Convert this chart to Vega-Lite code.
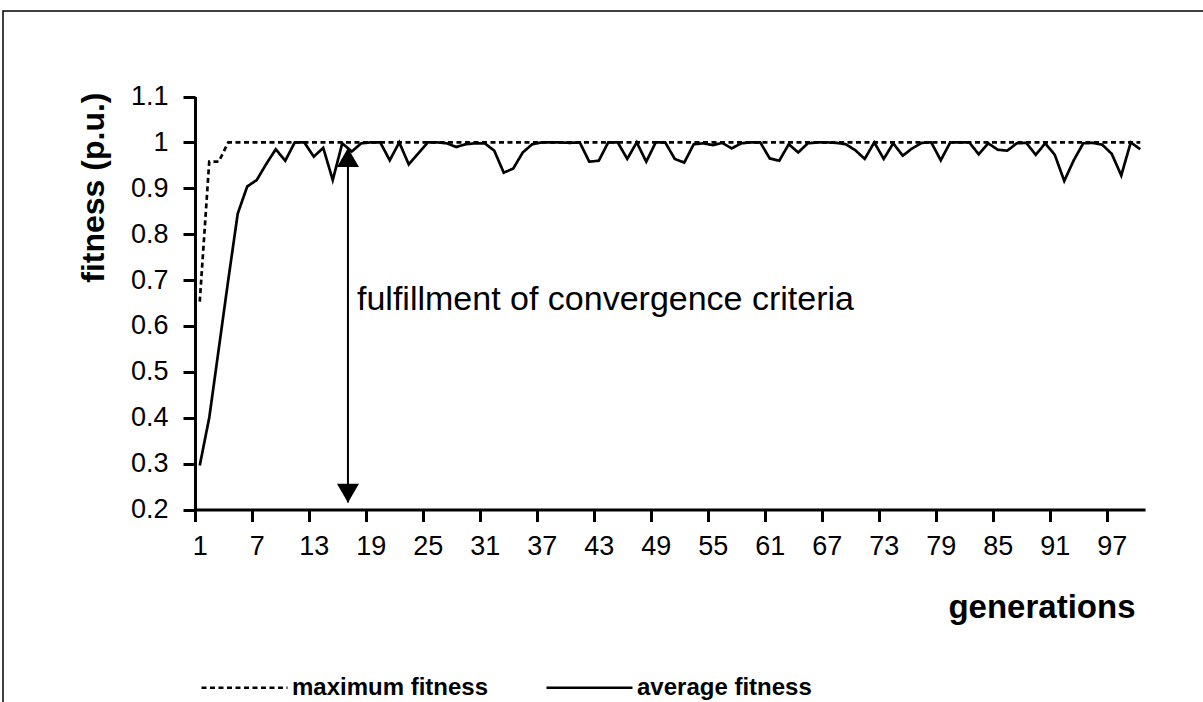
{
  "$schema": "https://vega.github.io/schema/vega-lite/v6.json",
  "width": 1215,
  "height": 700,
  "autosize": {"type": "none"},
  "padding": {"left": 3, "top": 11, "right": 0, "bottom": 0},
  "background": "white",
  "config": {
    "font": "Liberation Sans",
    "view": {"stroke": "black", "strokeWidth": 1.5},
    "axis": {"grid": false, "domainColor": "black", "tickColor": "black", "labelColor": "black", "titleColor": "black", "labelFlush": false, "labelBound": false, "labelOverlap": false}
  },
  "datasets": {
    "fit": [
      {"gen":1,"maximum fitness":0.653,"average fitness":0.296},
      {"gen":2,"maximum fitness":0.958,"average fitness":0.40},
      {"gen":3,"maximum fitness":0.958,"average fitness":0.55},
      {"gen":4,"maximum fitness":1.0,"average fitness":0.70},
      {"gen":5,"maximum fitness":1.0,"average fitness":0.845},
      {"gen":6,"maximum fitness":1.0,"average fitness":0.904},
      {"gen":7,"maximum fitness":1.0,"average fitness":0.918},
      {"gen":8,"maximum fitness":1.0,"average fitness":0.953},
      {"gen":9,"maximum fitness":1.0,"average fitness":0.985},
      {"gen":10,"maximum fitness":1.0,"average fitness":0.96},
      {"gen":11,"maximum fitness":1.0,"average fitness":1.0},
      {"gen":12,"maximum fitness":1.0,"average fitness":1.0},
      {"gen":13,"maximum fitness":1.0,"average fitness":0.969},
      {"gen":14,"maximum fitness":1.0,"average fitness":0.988},
      {"gen":15,"maximum fitness":1.0,"average fitness":0.918},
      {"gen":16,"maximum fitness":1.0,"average fitness":0.998},
      {"gen":17,"maximum fitness":1.0,"average fitness":0.98},
      {"gen":18,"maximum fitness":1.0,"average fitness":0.998},
      {"gen":19,"maximum fitness":1.0,"average fitness":1.0},
      {"gen":20,"maximum fitness":1.0,"average fitness":1.0},
      {"gen":21,"maximum fitness":1.0,"average fitness":0.961},
      {"gen":22,"maximum fitness":1.0,"average fitness":1.0},
      {"gen":23,"maximum fitness":1.0,"average fitness":0.952},
      {"gen":24,"maximum fitness":1.0,"average fitness":0.976},
      {"gen":25,"maximum fitness":1.0,"average fitness":1.0},
      {"gen":26,"maximum fitness":1.0,"average fitness":1.0},
      {"gen":27,"maximum fitness":1.0,"average fitness":0.998},
      {"gen":28,"maximum fitness":1.0,"average fitness":0.99},
      {"gen":29,"maximum fitness":1.0,"average fitness":0.996},
      {"gen":30,"maximum fitness":1.0,"average fitness":0.998},
      {"gen":31,"maximum fitness":1.0,"average fitness":0.998},
      {"gen":32,"maximum fitness":1.0,"average fitness":0.982},
      {"gen":33,"maximum fitness":1.0,"average fitness":0.934},
      {"gen":34,"maximum fitness":1.0,"average fitness":0.943},
      {"gen":35,"maximum fitness":1.0,"average fitness":0.978},
      {"gen":36,"maximum fitness":1.0,"average fitness":0.996},
      {"gen":37,"maximum fitness":1.0,"average fitness":1.0},
      {"gen":38,"maximum fitness":1.0,"average fitness":1.0},
      {"gen":39,"maximum fitness":1.0,"average fitness":1.0},
      {"gen":40,"maximum fitness":1.0,"average fitness":0.999},
      {"gen":41,"maximum fitness":1.0,"average fitness":1.0},
      {"gen":42,"maximum fitness":1.0,"average fitness":0.958},
      {"gen":43,"maximum fitness":1.0,"average fitness":0.96},
      {"gen":44,"maximum fitness":1.0,"average fitness":1.0},
      {"gen":45,"maximum fitness":1.0,"average fitness":1.0},
      {"gen":46,"maximum fitness":1.0,"average fitness":0.964},
      {"gen":47,"maximum fitness":1.0,"average fitness":1.0},
      {"gen":48,"maximum fitness":1.0,"average fitness":0.958},
      {"gen":49,"maximum fitness":1.0,"average fitness":1.0},
      {"gen":50,"maximum fitness":1.0,"average fitness":1.0},
      {"gen":51,"maximum fitness":1.0,"average fitness":0.964},
      {"gen":52,"maximum fitness":1.0,"average fitness":0.956},
      {"gen":53,"maximum fitness":1.0,"average fitness":0.996},
      {"gen":54,"maximum fitness":1.0,"average fitness":0.998},
      {"gen":55,"maximum fitness":1.0,"average fitness":0.994},
      {"gen":56,"maximum fitness":1.0,"average fitness":0.999},
      {"gen":57,"maximum fitness":1.0,"average fitness":0.987},
      {"gen":58,"maximum fitness":1.0,"average fitness":0.998},
      {"gen":59,"maximum fitness":1.0,"average fitness":1.0},
      {"gen":60,"maximum fitness":1.0,"average fitness":1.0},
      {"gen":61,"maximum fitness":1.0,"average fitness":0.965},
      {"gen":62,"maximum fitness":1.0,"average fitness":0.96},
      {"gen":63,"maximum fitness":1.0,"average fitness":0.996},
      {"gen":64,"maximum fitness":1.0,"average fitness":0.978},
      {"gen":65,"maximum fitness":1.0,"average fitness":0.998},
      {"gen":66,"maximum fitness":1.0,"average fitness":1.0},
      {"gen":67,"maximum fitness":1.0,"average fitness":1.0},
      {"gen":68,"maximum fitness":1.0,"average fitness":0.999},
      {"gen":69,"maximum fitness":1.0,"average fitness":0.996},
      {"gen":70,"maximum fitness":1.0,"average fitness":0.983},
      {"gen":71,"maximum fitness":1.0,"average fitness":0.964},
      {"gen":72,"maximum fitness":1.0,"average fitness":1.0},
      {"gen":73,"maximum fitness":1.0,"average fitness":0.964},
      {"gen":74,"maximum fitness":1.0,"average fitness":0.998},
      {"gen":75,"maximum fitness":1.0,"average fitness":0.971},
      {"gen":76,"maximum fitness":1.0,"average fitness":0.987},
      {"gen":77,"maximum fitness":1.0,"average fitness":0.999},
      {"gen":78,"maximum fitness":1.0,"average fitness":1.0},
      {"gen":79,"maximum fitness":1.0,"average fitness":0.961},
      {"gen":80,"maximum fitness":1.0,"average fitness":1.0},
      {"gen":81,"maximum fitness":1.0,"average fitness":1.0},
      {"gen":82,"maximum fitness":1.0,"average fitness":1.0},
      {"gen":83,"maximum fitness":1.0,"average fitness":0.974},
      {"gen":84,"maximum fitness":1.0,"average fitness":0.998},
      {"gen":85,"maximum fitness":1.0,"average fitness":0.984},
      {"gen":86,"maximum fitness":1.0,"average fitness":0.982},
      {"gen":87,"maximum fitness":1.0,"average fitness":0.998},
      {"gen":88,"maximum fitness":1.0,"average fitness":0.999},
      {"gen":89,"maximum fitness":1.0,"average fitness":0.973},
      {"gen":90,"maximum fitness":1.0,"average fitness":0.998},
      {"gen":91,"maximum fitness":1.0,"average fitness":0.973},
      {"gen":92,"maximum fitness":1.0,"average fitness":0.916},
      {"gen":93,"maximum fitness":1.0,"average fitness":0.961},
      {"gen":94,"maximum fitness":1.0,"average fitness":0.998},
      {"gen":95,"maximum fitness":1.0,"average fitness":0.999},
      {"gen":96,"maximum fitness":1.0,"average fitness":0.995},
      {"gen":97,"maximum fitness":1.0,"average fitness":0.975},
      {"gen":98,"maximum fitness":1.0,"average fitness":0.928},
      {"gen":99,"maximum fitness":1.0,"average fitness":1.0},
      {"gen":100,"maximum fitness":1.0,"average fitness":0.985}
    ]
  },
  "layer": [
    {
      "data": {"name": "fit"},
      "transform": [{"fold": ["maximum fitness", "average fitness"], "as": ["series", "fitness"]}],
      "mark": {"type": "line", "color": "black", "strokeWidth": 2.7},
      "encoding": {
        "x": {
          "field": "gen", "type": "quantitative",
          "scale": {"domain": [0.5, 100.5], "range": [192, 1142], "nice": false, "zero": false},
          "axis": {
            "orient": "bottom", "offset": -201.5,
            "values": [0.5, 6.5, 12.5, 18.5, 24.5, 30.5, 36.5, 42.5, 48.5, 54.5, 60.5, 66.5, 72.5, 78.5, 84.5, 90.5, 96.5],
            "labelExpr": "format(datum.value + 0.5, 'd')",
            "labelOffset": 4.75,
            "domainWidth": 3, "tickWidth": 3, "tickSize": 12,
            "labelFontSize": 27, "labelPadding": 12,
            "title": "generations", "titleFontSize": 33, "titleFontWeight": "bold",
            "titleAlign": "right", "titleBaseline": "alphabetic", "titleX": 1132, "titleY": 108
          }
        },
        "y": {
          "field": "fitness", "type": "quantitative",
          "scale": {"domain": [0.2, 1.1], "range": [498.5, 85.5], "nice": false, "zero": false},
          "axis": {
            "orient": "left", "offset": -192,
            "values": [0.2, 0.3, 0.4, 0.5, 0.6, 0.7, 0.8, 0.9, 1.0, 1.1],
            "format": ".1~f",
            "domainWidth": 3, "tickWidth": 3, "tickSize": 12,
            "labelFontSize": 27, "labelPadding": 15,
            "title": "fitness (p.u.)", "titleFontSize": 32, "titleFontWeight": "bold",
            "titleAngle": -90, "titleAlign": "right", "titleBaseline": "middle", "titleX": -102, "titleY": 81
          }
        },
        "strokeDash": {
          "field": "series", "type": "nominal",
          "scale": {"domain": ["maximum fitness", "average fitness"], "range": [[5, 3.5], [1, 0]]},
          "legend": {
            "orient": "none", "direction": "horizontal", "legendX": 197, "legendY": 632,
            "title": null, "padding": 0, "symbolType": "stroke", "symbolSize": 7400,
            "symbolStrokeColor": "black", "symbolStrokeWidth": 2.5, "labelOffset": 3,
            "labelFontSize": 24, "labelFontWeight": "bold", "labelColor": "black",
            "columnPadding": 52, "labelLimit": 400
          }
        }
      }
    },
    {
      "data": {"values": [{}]},
      "mark": {"type": "rule", "color": "black", "strokeWidth": 2},
      "encoding": {
        "x": {"datum": 16.6, "type": "quantitative"},
        "y": {"datum": 0.985, "type": "quantitative"},
        "y2": {"datum": 0.215}
      }
    },
    {
      "data": {"values": [{}]},
      "mark": {"type": "point", "shape": "triangle-up", "filled": true, "color": "black", "opacity": 1, "size": 484},
      "encoding": {
        "x": {"datum": 16.6, "type": "quantitative"},
        "y": {"datum": 0.967, "type": "quantitative"}
      }
    },
    {
      "data": {"values": [{}]},
      "mark": {"type": "point", "shape": "triangle-down", "filled": true, "color": "black", "opacity": 1, "size": 484},
      "encoding": {
        "x": {"datum": 16.6, "type": "quantitative"},
        "y": {"datum": 0.2355, "type": "quantitative"}
      }
    },
    {
      "data": {"values": [{}]},
      "mark": {"type": "text", "text": "fulfillment of convergence criteria", "align": "left", "baseline": "middle", "fontSize": 34, "color": "black"},
      "encoding": {
        "x": {"datum": 17.55, "type": "quantitative"},
        "y": {"datum": 0.657, "type": "quantitative"}
      }
    }
  ]
}
